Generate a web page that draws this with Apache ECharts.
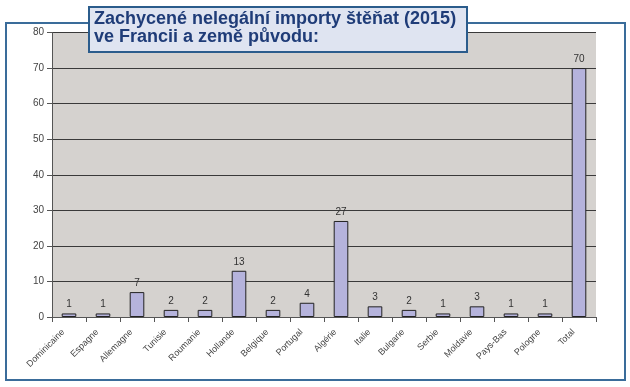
<!DOCTYPE html>
<html><head><meta charset="utf-8">
<script src="https://cdn.jsdelivr.net/npm/echarts@6/dist/echarts.min.js"></script>
<style>html,body{margin:0;padding:0;background:#fff}#c{width:630px;height:387px}</style>
</head><body><div id="c"></div>
<script>
const categories = ['Dominicaine','Espagne','Allemagne','Tunisie','Roumanie','Hollande','Belgique','Portugal','Algérie','Italie','Bulgarie','Serbie','Moldavie','Pays-Bas','Pologne','Total'];
const values = [1,1,7,2,2,13,2,4,27,3,2,1,3,1,1,70];
const yTicks = [0,10,20,30,40,50,60,70,80];
const titleLines = ['Zachycené nelegální importy štěňat (2015)','ve Francii a země původu:'];

const chart = echarts.init(document.getElementById('c'));
chart.setOption({
  animation:false,
  graphic:[
    {type:'rect',z:0,shape:{x:6,y:23,width:619,height:357},style:{fill:'none',stroke:'#3a6c9a',lineWidth:2}},
    {type:'rect',z:10,shape:{x:89,y:7,width:378,height:45},style:{fill:'#dfe4f1',stroke:'#2b5c8c',lineWidth:2}},
    {type:'text',z:11,left:94,top:10,style:{text:titleLines.join('\n'),fill:'#1f3c78',font:'bold 18px "Liberation Sans", Arial, sans-serif',lineHeight:18}}
  ],
  grid:{left:52,top:32.5,right:34,bottom:70,show:true,backgroundColor:'#d5d2cf',borderWidth:0},
  xAxis:{type:'category',data:categories,
    axisLine:{lineStyle:{color:'#555'}},
    axisTick:{show:true,alignWithLabel:false,length:5,lineStyle:{color:'#555'}},
    axisLabel:{rotate:45,fontSize:9,color:'#444',fontFamily:'"Liberation Sans", Arial',interval:0,margin:8,padding:[0,8,0,0]}},
  yAxis:{type:'value',min:0,max:80,interval:10,
    axisLine:{show:true,lineStyle:{color:'#555'}},
    axisTick:{show:true,length:5,lineStyle:{color:'#555'}},
    axisLabel:{fontSize:10,color:'#444',fontFamily:'"Liberation Sans", Arial',margin:8,
      formatter:v=>yTicks.includes(v)?String(v):''},
    splitLine:{show:true,lineStyle:{color:'#3a3a3a',width:1}}},
  series:[{type:'bar',data:values,barWidth:'43%',
    itemStyle:{color:'#b5b3dc',borderColor:'#222',borderWidth:1},
    label:{show:true,position:'top',fontSize:10,color:'#333',fontFamily:'"Liberation Sans", Arial',distance:4}}]
});
</script></body></html>
